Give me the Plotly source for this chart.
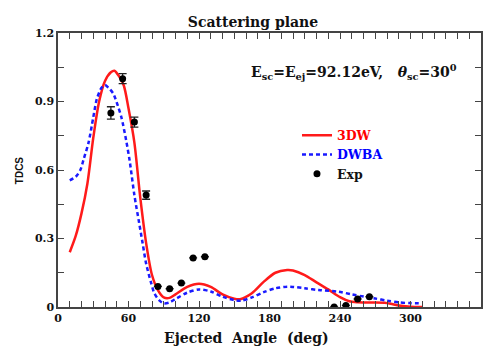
import plotly.graph_objects as go

# 3DW curve
x_3dw = [10, 15, 20, 25, 30, 35, 40, 45, 48, 52, 56, 60, 65, 70, 75, 80, 85, 90, 95,
         100, 110, 120, 130, 140, 150, 155, 165, 175, 185, 195, 200, 210, 220, 230,
         240, 248, 255, 265, 278, 285, 292, 300, 310]
y_3dw = [0.24, 0.31, 0.41, 0.54, 0.74, 0.90, 0.99, 1.028, 1.035, 1.01, 0.97, 0.87, 0.72,
         0.48, 0.28, 0.14, 0.074, 0.042, 0.040, 0.055, 0.088, 0.102, 0.088, 0.055, 0.036,
         0.034, 0.06, 0.11, 0.15, 0.162, 0.16, 0.14, 0.108, 0.077, 0.043, 0.025, 0.021,
         0.02, 0.019, 0.012, 0.005, 0.001, 0.0]

# DWBA curve
x_dwba = [10, 15, 19, 22, 26, 30, 33, 37, 40, 43, 47, 51, 54, 58, 61, 65, 69, 72, 75, 79,
          82, 86, 90, 95, 100, 110, 120, 130, 140, 150, 156, 165, 175, 185, 195, 200, 210,
          222, 239, 250, 261, 270, 280, 290, 300, 309]
y_dwba = [0.555, 0.57, 0.60, 0.65, 0.72, 0.83, 0.91, 0.96, 0.972, 0.96, 0.935, 0.88, 0.83,
          0.73, 0.64, 0.49, 0.37, 0.28, 0.19, 0.11, 0.06, 0.03, 0.016, 0.02, 0.035, 0.063,
          0.077, 0.068, 0.045, 0.03, 0.028, 0.042, 0.065, 0.082, 0.089, 0.088, 0.082,
          0.074, 0.067, 0.055, 0.045, 0.037, 0.028, 0.02, 0.017, 0.016]

# Experimental
x_exp = [45, 55, 65, 75, 85, 95, 105, 115, 125, 235, 245, 255, 265]
y_exp = [0.85, 1.0, 0.81, 0.49, 0.09, 0.08, 0.105, 0.215, 0.22, 0.0, 0.007, 0.035, 0.045]
err_exp = [0.027, 0.022, 0.022, 0.018, 0, 0, 0, 0, 0, 0, 0, 0, 0]

x_ticks = [0, 60, 120, 180, 240, 300, 360]
y_ticks = [0, 0.3, 0.6, 0.9, 1.2]
y_tick_labels = ["0", "0.3", "0.6", "0.9", "1.2"]

FONT = "DejaVu Serif"

fig = go.Figure()
fig.add_trace(go.Scatter(x=x_3dw, y=y_3dw, mode="lines",
                         name="<span style='color:#ff0000'>3DW</span>",
                         line=dict(color="#ff1a1a", width=2.5, shape="spline", smoothing=0.8)))
fig.add_trace(go.Scatter(x=x_dwba, y=y_dwba, mode="lines",
                         name="<span style='color:#0000ff'>DWBA</span>",
                         line=dict(color="#1a1aff", width=2.5, dash="4px,3px", shape="spline", smoothing=0.8)))
fig.add_trace(go.Scatter(x=x_exp, y=y_exp, mode="markers", name="Exp",
                         marker=dict(color="black", size=7),
                         error_y=dict(type="data", array=err_exp, color="#222", thickness=1.3, width=4)))

axis_common = dict(showline=True, linecolor="#444", linewidth=1.5, mirror="ticks",
                   ticks="inside", ticklen=6, tickcolor="#444", tickwidth=1.3,
                   showgrid=False, zeroline=False,
                   tickfont=dict(family=FONT, size=11, color="#111", weight="bold"))

fig.update_xaxes(range=[0, 360], tickvals=x_ticks, ticktext=[str(v) for v in x_ticks],
                 minor=dict(dtick=10, ticks="inside", ticklen=6, tickcolor="#444", tickwidth=1.3),
                 **axis_common)
fig.update_yaxes(range=[0, 1.2], tickvals=y_ticks, ticktext=y_tick_labels,
                 minor=dict(dtick=0.15, ticks="inside", ticklen=6, tickcolor="#444", tickwidth=1.3),
                 **axis_common)

fig.update_layout(
    width=492, height=347,
    margin=dict(l=58, r=9, t=33, b=40),
    paper_bgcolor="white", plot_bgcolor="white",
    title=dict(text="Scattering plane", x=253/492, xanchor="center",
               y=1 - 21.7/347, yanchor="middle",
               font=dict(family=FONT, size=14, color="#111", weight="bold")),
    showlegend=True,
    legend=dict(x=0.565, y=0.68, xanchor="left", yanchor="top",
                bgcolor="rgba(0,0,0,0)", itemwidth=30, tracegroupgap=0,
                font=dict(family=FONT, size=12.5, color="#111", weight="bold")),
)

fig.add_annotation(xref="paper", yref="paper", x=(355-58)/425, y=(307-72)/274,
                   xanchor="center", yanchor="middle", showarrow=False,
                   text="E<sub>sc</sub>=E<sub>ej</sub>=92.12eV,   <i>θ</i><sub>sc</sub>=30<sup>0</sup>",
                   font=dict(family=FONT, size=14, color="#111", weight="bold"))
fig.add_annotation(xref="paper", yref="paper", x=(247.5-58)/425, y=(307-338)/274,
                   xanchor="center", yanchor="middle", showarrow=False,
                   text="Ejected  Angle  (deg)",
                   font=dict(family=FONT, size=14, color="#111", weight="bold"))
fig.add_annotation(xref="paper", yref="paper", x=(19-58)/425, y=0.5,
                   xanchor="center", yanchor="middle", showarrow=False, textangle=-90,
                   text="TDCS",
                   font=dict(family="Liberation Sans Narrow, Liberation Sans", size=10, color="#111", weight="bold"))

fig.write_html("out.html", config={"displayModeBar": False},
               post_script="document.body.style.margin='0';document.body.style.overflow='hidden';")
